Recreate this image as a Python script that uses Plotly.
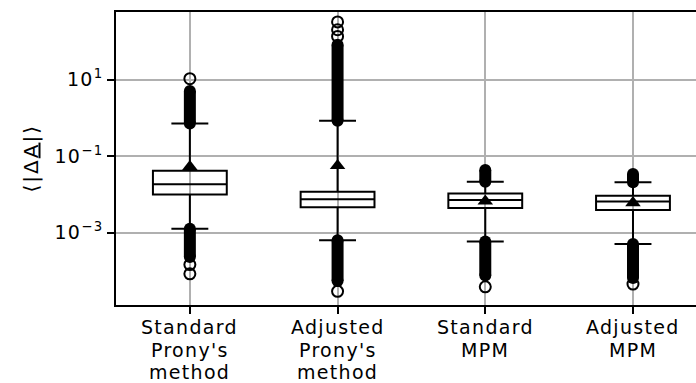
import plotly.graph_objects as go

# Methods compared, placed at x = 1..4 (one label line per entry)
methods = [["Standard", "Prony's", "method"],
           ["Adjusted", "Prony's", "method"],
           ["Standard", "MPM"],
           ["Adjusted", "MPM"]]
positions = [1, 2, 3, 4]

# Box statistics of <|ΔA|>
q1 = [0.0098, 0.0046, 0.0044, 0.0039]
median = [0.0182, 0.0074, 0.0071, 0.0065]
q3 = [0.041, 0.0117, 0.0105, 0.0092]
lower_whisker = [0.00125, 0.00063, 0.00058, 0.00050]
upper_whisker = [0.708, 0.84, 0.0213, 0.0205]
mean = [0.0525, 0.056, 0.0066, 0.0060]

# Ranges covered by densely packed outliers (upper and lower)
dense_upper_lo = [0.708, 0.84, 0.0213, 0.0205]
dense_upper_hi = [5.0, 81.0, 0.043, 0.034]
dense_lower_hi = [0.00125, 0.00063, 0.00058, 0.00050]
dense_lower_lo = [2.3e-4, 5.4e-5, 7.5e-5, 6.5e-5]

# Isolated outliers beyond the dense ranges
sparse_x = [1, 1, 1, 2, 2, 2, 2, 3, 4]
sparse_y = [10.5, 1.45e-4, 8.3e-5, 320.0, 200.0, 134.0, 2.9e-5, 3.8e-5, 4.5e-5]

yticks = [1e-3, 1e-1, 1e1]
yticktext = ["10<sup>−3</sup>", "10<sup>−1</sup>", "10<sup>1</sup>"]
ylabel = "⟨|Δ<u>A</u>|⟩"

FONT = "DejaVu Sans"
WIDE = '<span style="letter-spacing:1.3px">{}</span>'

fig = go.Figure()

fig.add_trace(go.Box(
    x=positions, q1=q1, median=median, q3=q3,
    lowerfence=lower_whisker, upperfence=upper_whisker,
    width=0.5, whiskerwidth=0.5, boxpoints=False,
    line=dict(color="black", width=2), fillcolor="rgba(0,0,0,0)",
    hoverinfo="skip", showlegend=False,
))

# dense outlier columns: thick segments with round ends
for i, p in enumerate(positions):
    for lo, hi in ((dense_upper_lo[i], dense_upper_hi[i]),
                   (dense_lower_lo[i], dense_lower_hi[i])):
        fig.add_trace(go.Scatter(
            x=[p, p], y=[lo, hi], mode="lines+markers",
            line=dict(color="black", width=12),
            marker=dict(symbol="circle", size=12, color="black"),
            hoverinfo="skip", showlegend=False,
        ))

fig.add_trace(go.Scatter(
    x=sparse_x, y=sparse_y, mode="markers",
    marker=dict(symbol="circle-open", size=11, color="black",
                line=dict(color="black", width=2)),
    hoverinfo="skip", showlegend=False,
))

fig.add_trace(go.Scatter(
    x=positions, y=mean, mode="markers",
    marker=dict(symbol="triangle-up", size=13.5, color="black"),
    hoverinfo="skip", showlegend=False,
))

# category labels, one annotation per text line
line_offsets = [-22, -44.5, -67]
for p, lines in zip(positions, methods):
    for k, txt in enumerate(lines):
        fig.add_annotation(
            x=p, xref="x", y=0, yref="paper", yshift=line_offsets[k],
            text=WIDE.format(txt), showarrow=False,
            xanchor="center", yanchor="middle",
            font=dict(family=FONT, size=19, color="black"),
        )

fig.add_annotation(
    x=0, xref="paper", xshift=-86, y=0.5, yref="paper",
    text='<span style="letter-spacing:2px">' + ylabel + "</span>",
    textangle=-90, showarrow=False, xanchor="center", yanchor="middle",
    font=dict(family=FONT, size=20, color="black"),
)

fig.update_layout(
    width=696, height=383,
    margin=dict(l=116, r=0, t=12, b=78),
    paper_bgcolor="white", plot_bgcolor="white",
    font=dict(family=FONT, size=17, color="black"),
    boxmode="overlay",
    xaxis=dict(
        range=[0.5, 4.4266], tickmode="array", tickvals=positions,
        showticklabels=False,
        showgrid=True, gridcolor="#b0b0b0", gridwidth=1.5, zeroline=False,
        showline=True, linecolor="black", linewidth=1.5, mirror=True,
        ticks="outside", ticklen=7, tickwidth=1.5, tickcolor="black",
    ),
    yaxis=dict(
        type="log", range=[-4.895, 2.765], tickmode="array",
        tickvals=yticks, ticktext=[WIDE.format(t) for t in yticktext],
        showgrid=True, gridcolor="#b0b0b0", gridwidth=1.5, zeroline=False,
        showline=True, linecolor="black", linewidth=1.5, mirror=False,
        ticks="outside", ticklen=7, tickwidth=1.5, tickcolor="black",
        tickfont=dict(family=FONT, size=19),
    ),
)

fig.write_html("out.html")
